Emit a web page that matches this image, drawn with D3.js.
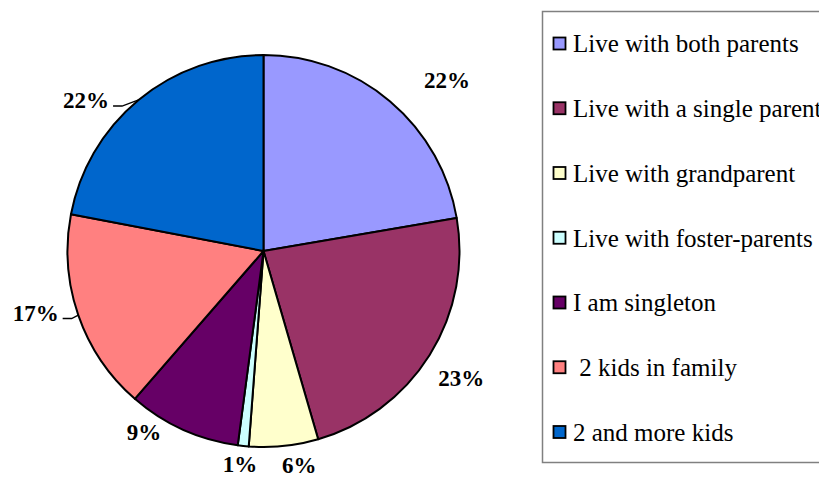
<!DOCTYPE html>
<html>
<head>
<meta charset="utf-8">
<script src="https://cdn.jsdelivr.net/npm/d3@7"></script>
<style>
  html, body { margin: 0; padding: 0; background: #fff; overflow: hidden; }
  svg { display: block; }
</style>
</head>
<body>
<div id="chart"></div>
<script>
const categories = [
  "Live with both parents",
  "Live with a single parent",
  "Live with grandparent",
  "Live with foster-parents",
  "I am singleton",
  " 2 kids in family",
  "2 and more kids",
]
const shares = [22.3, 23.2, 5.7, 0.9, 9.3, 16.6, 22.0]
const colors = ["#9999FF", "#993366", "#FFFFCC", "#CCFFFF", "#660066", "#FF8080", "#0066CC"]

// where Excel left each percentage label (polar, around the pie centre)
const labelLayout = [
  { angle: 47.0, r: 251 },
  { angle: 122.7, r: 235 },
  { angle: 170.5, r: 217 },
  { angle: 186.3, r: 214 },
  { angle: 213.4, r: 217 },
  { angle: 254.9, r: 236, leader: true },
  { angle: 310.4, r: 233, leader: true },
]

const width = 819
const height = 478
const cx = 263.5
const cy = 251
const radius = 196
const serif = "Times New Roman, Liberation Serif, serif"

const svg = d3
  .select("#chart")
  .append("svg")
  .attr("width", width)
  .attr("height", height)
  .style("font-family", serif)

const pie = d3.pie().sort(null).value((d) => d)
const arcs = pie(shares)
const arc = d3.arc().innerRadius(0).outerRadius(radius)

const g = svg.append("g").attr("transform", `translate(${cx},${cy})`)

g.selectAll("path")
  .data(arcs)
  .enter()
  .append("path")
  .attr("d", arc)
  .attr("fill", (d, i) => colors[i])
  .attr("stroke", "#000")
  .attr("stroke-width", 2)
  .attr("stroke-linejoin", "round")

const polar = (deg, r) => {
  const a = (deg * Math.PI) / 180
  return [r * Math.sin(a), -r * Math.cos(a)]
}

arcs.forEach((d, i) => {
  const lay = labelLayout[i]
  const [lx, ly] = polar(lay.angle, lay.r)
  const t = g
    .append("text")
    .attr("x", lx)
    .attr("y", ly)
    .attr("dy", "0.35em")
    .attr("text-anchor", "middle")
    .attr("font-weight", "bold")
    .attr("font-size", "23px")
    .attr("fill", "#000")
    .text(Math.round(d.value) + "%")

  if (lay.leader) {
    const w = t.node().getComputedTextLength()
    const mid = ((d.startAngle + d.endAngle) / 2) * (180 / Math.PI)
    const edge = polar(mid, radius)
    const x0 = lx + w / 2 + 4
    const y0 = ly + 6
    g.append("polyline")
      .attr("points", [[x0, y0], [x0 + 9, y0], edge].map((p) => p.join(",")).join(" "))
      .attr("fill", "none")
      .attr("stroke", "#000")
      .attr("stroke-width", 1.3)
  }
})

// legend
const legend = svg.append("g")
legend
  .append("rect")
  .attr("x", 542.5)
  .attr("y", 11.5)
  .attr("width", 300)
  .attr("height", 451)
  .attr("fill", "#fff")
  .attr("stroke", "#808080")
  .attr("stroke-width", 1.5)

const ly = d3
  .scalePoint()
  .domain(categories)
  .range([43.5, 432])

const items = legend
  .selectAll("g.item")
  .data(categories)
  .enter()
  .append("g")
  .attr("class", "item")
  .attr("transform", (d) => `translate(553,${ly(d)})`)

items
  .append("rect")
  .attr("x", 0.5)
  .attr("y", -6)
  .attr("width", 12)
  .attr("height", 12)
  .attr("fill", (d, i) => colors[i])
  .attr("stroke", "#000")
  .attr("stroke-width", 1.8)

items
  .append("text")
  .attr("x", 20)
  .attr("y", 0)
  .attr("dy", "0.35em")
  .attr("font-size", "25px")
  .attr("fill", "#000")
  .style("white-space", "pre")
  .text((d) => d)
</script>
</body>
</html>
